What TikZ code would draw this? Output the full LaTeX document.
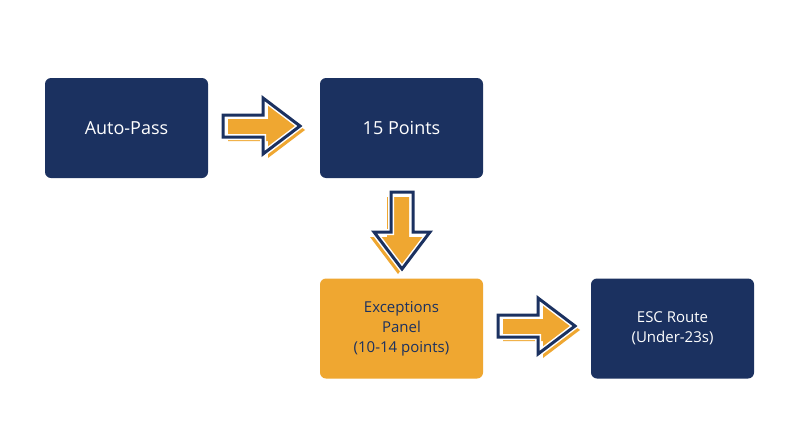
\documentclass[tikz,border=0pt]{standalone}
\usepackage{fontspec}
\setmainfont{Open Sans}
\definecolor{navy}{HTML}{1B3160}
\definecolor{org}{HTML}{EFA731}
\begin{document}
\begin{tikzpicture}[x=1pt,y=-1pt,
  box/.style={rounded corners=6pt,minimum width=163pt,minimum height=100pt,align=center,inner sep=0pt},
  nbox/.style={box,fill=navy,text=white},
  obox/.style={box,fill=org,text=navy},
  rarrow/.pic={
    \fill[org,shift={(5,4)}] (0,-11) -- (40,-11) -- (40,-28) -- (77,0) -- (40,28) -- (40,11) -- (0,11) -- cycle;
    \draw[white,line width=6pt,line join=miter] (0,-11) -- (40,-11) -- (40,-28) -- (77,0) -- (40,28) -- (40,11) -- (0,11) -- cycle;
    \draw[navy,line width=3pt,line join=miter] (0,-11) -- (40,-11) -- (40,-28) -- (77,0) -- (40,28) -- (40,11) -- (0,11) -- cycle;
  }]
\useasboundingbox[fill=white] (0,0) rectangle (800,447);
\node[nbox,font=\fontsize{18}{22}\selectfont] (a) at (126.5,128) {Auto-Pass};
\node[nbox,font=\fontsize{18}{22}\selectfont] (b) at (401.5,128) {15 Points};
\node[obox,font=\fontsize{15}{20}\selectfont] (c) at (401.5,328.5) {Exceptions\\Panel\\(10-14 points)};
\node[nbox,font=\fontsize{15}{20}\selectfont] (d) at (672.5,328.5) {ESC Route\\(Under-23s)};
\coordinate (ab) at (223,126);
\coordinate (bc) at (402,192);
\coordinate (cd) at (498,326);
\pic at (ab) {rarrow};
\pic[rotate=-90] at (bc) {rarrow};
\pic at (cd) {rarrow};
\end{tikzpicture}
\end{document}
